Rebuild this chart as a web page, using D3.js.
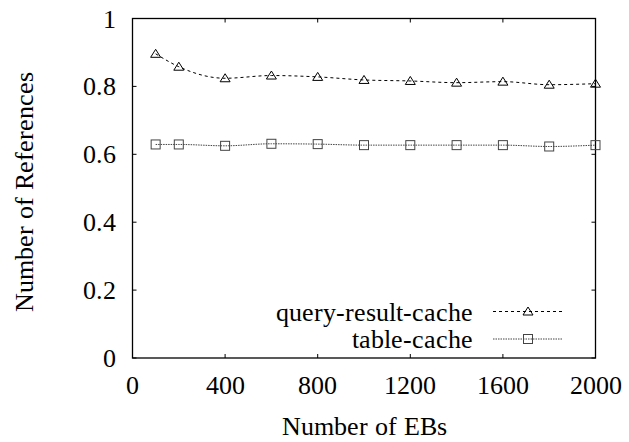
<!DOCTYPE html>
<html>
<head>
<meta charset="utf-8">
<script src="https://cdn.jsdelivr.net/npm/d3@7"></script>
<style>
  @font-face {
    font-family: "PlotSerif";
    src: local("Liberation Serif"), local("LiberationSerif"), local("LiberationSerif-Regular"),
         local("DejaVu Serif"), local("DejaVuSerif"), local("Times New Roman");
  }
  body { margin: 0; background: #fff; }
</style>
</head>
<body>
<div id="chart"></div>
<script>
// number of EBs on the x axis
var ebs = [100, 200, 400, 600, 800, 1000, 1200, 1400, 1600, 1800, 2000];
var queryResultCache = [0.896, 0.858, 0.824, 0.832, 0.828, 0.819, 0.816, 0.811, 0.814, 0.805, 0.808];
var tableCache = [0.629, 0.629, 0.625, 0.631, 0.630, 0.627, 0.627, 0.627, 0.627, 0.623, 0.627];
var xTicks = [0, 400, 800, 1200, 1600, 2000];
var yTicks = [0, 0.2, 0.4, 0.6, 0.8, 1];

var width = 629, height = 442;
var margin = {top: 18.5, right: 33.5, bottom: 84, left: 132.5};
var fontFamily = "PlotSerif, 'Liberation Serif', 'DejaVu Serif', serif";
var fontSize = 26;

var svg = d3.select("#chart").append("svg")
    .attr("width", width)
    .attr("height", height);

var x = d3.scaleLinear().domain([0, 2000]).range([margin.left, width - margin.right]);
var y = d3.scaleLinear().domain([0, 1]).range([height - margin.bottom, margin.top]);

function label(sel, tx, ty, anchor, txt) {
  return sel.append("text").attr("x", tx).attr("y", ty)
    .attr("text-anchor", anchor)
    .style("font-family", fontFamily)
    .style("font-size", fontSize + "px")
    .attr("fill", "#000")
    .text(txt);
}

// inward ticks on all four sides
var tickLen = 4;
var g = svg.append("g");
xTicks.forEach(function(t){
  g.append("line").attr("x1", x(t)).attr("x2", x(t))
    .attr("y1", y(0)).attr("y2", y(0) - tickLen).attr("stroke", "#000");
  g.append("line").attr("x1", x(t)).attr("x2", x(t))
    .attr("y1", y(1)).attr("y2", y(1) + tickLen).attr("stroke", "#000");
  label(g, x(t), 394, "middle", t);
});
yTicks.forEach(function(t){
  g.append("line").attr("x1", x(0)).attr("x2", x(0) + tickLen)
    .attr("y1", y(t)).attr("y2", y(t)).attr("stroke", "#000");
  g.append("line").attr("x1", x(2000)).attr("x2", x(2000) - tickLen)
    .attr("y1", y(t)).attr("y2", y(t)).attr("stroke", "#000");
  label(g, 116, y(t) + 9, "end", t);
});

// frame
svg.append("rect")
  .attr("x", x(0)).attr("y", y(1))
  .attr("width", x(2000) - x(0)).attr("height", y(0) - y(1))
  .attr("fill", "none").attr("stroke", "#000").attr("stroke-width", 1.3);

// axis titles
label(svg, 364.5, 435, "middle", "Number of EBs");
label(svg, 0, 0, "middle", "Number of References")
  .attr("transform", "translate(33,192) rotate(-90)");

var series = [
  {name: "query-result-cache", values: queryResultCache, dash: "3,3", marker: "triangle", color: "#000"},
  {name: "table-cache", values: tableCache, dash: "1.5,1", marker: "square", color: "#444"}
];

var line = d3.line()
  .x(function(d){ return x(d[0]); })
  .y(function(d){ return y(d[1]); })
  .curve(d3.curveMonotoneX);

function drawMarker(sel, kind, cx, cy, color) {
  if (kind == "triangle") {
    sel.append("path")
      .attr("d", "M" + cx + "," + (cy - 4.5) + "L" + (cx + 5) + "," + (cy + 3.5) + "L" + (cx - 5) + "," + (cy + 3.5) + "Z")
      .attr("fill", "none").attr("stroke", color).attr("stroke-width", 1);
  } else {
    sel.append("rect")
      .attr("x", cx - 4.5).attr("y", cy - 4.5).attr("width", 9).attr("height", 9)
      .attr("fill", "none").attr("stroke", color).attr("stroke-width", 1);
  }
}

series.forEach(function(s){
  var pts = ebs.map(function(e, i){ return [e, s.values[i]]; });
  svg.append("path").datum(pts)
    .attr("d", line)
    .attr("fill", "none")
    .attr("stroke", s.color)
    .attr("stroke-width", 1)
    .attr("stroke-dasharray", s.dash);
  pts.forEach(function(p){
    drawMarker(svg, s.marker, x(p[0]), y(p[1]), s.color);
  });
});

// legend
var legY = [311.5, 339];
var legBase = [320.5, 347.5];
series.forEach(function(s, i){
  label(svg, 473, legBase[i], "end", s.name);
  svg.append("line").attr("x1", 493).attr("x2", 563)
    .attr("y1", legY[i]).attr("y2", legY[i])
    .attr("stroke", s.color).attr("stroke-width", 1).attr("stroke-dasharray", s.dash);
  drawMarker(svg, s.marker, 528, legY[i], s.color);
});
</script>
</body>
</html>
